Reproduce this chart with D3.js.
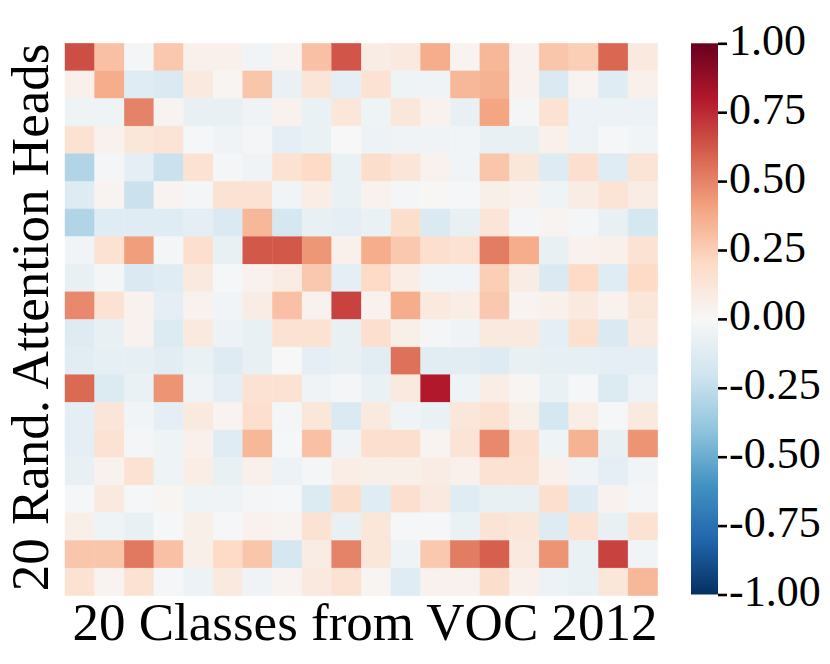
<!DOCTYPE html>
<html>
<head>
<meta charset="utf-8">
<script src="https://cdn.jsdelivr.net/npm/d3@7"></script>
<style>
  body { margin: 0; background: #fff; }
  text { font-family: "Liberation Serif", "Times New Roman", serif; fill: #000; }
</style>
</head>
<body>
<svg width="830" height="664"></svg>
<script>
const classes = ['aeroplane', 'bicycle', 'bird', 'boat', 'bottle', 'bus', 'car', 'cat', 'chair', 'cow',
  'diningtable', 'dog', 'horse', 'motorbike', 'person', 'pottedplant', 'sheep', 'sofa', 'train', 'tvmonitor'];
const heads = d3.range(1, 21).map(i => `head ${i}`);

// one row per attention head, one value per class
const corr = [
  [0.65, 0.30, -0.02, 0.27, 0.05, 0.05, -0.03, 0.03, 0.30, 0.63, 0.08, 0.10, 0.37, 0.03, 0.33, 0.04, 0.28, 0.25, 0.58, 0.10],
  [0.05, 0.37, -0.12, -0.15, 0.10, 0.02, 0.28, -0.07, 0.13, -0.10, 0.15, -0.05, -0.04, 0.33, 0.35, 0.04, -0.15, 0.03, -0.12, 0.05],
  [-0.05, -0.05, 0.50, 0.03, -0.08, -0.08, -0.04, 0.04, -0.07, 0.12, -0.05, 0.12, 0.04, -0.08, 0.40, -0.02, 0.15, -0.06, -0.06, -0.06],
  [0.15, 0.04, 0.12, 0.14, -0.01, -0.04, -0.02, -0.10, -0.07, 0.00, -0.06, -0.04, -0.04, -0.03, -0.08, -0.08, 0.05, -0.06, -0.01, -0.03],
  [-0.30, -0.02, -0.10, -0.22, 0.15, -0.02, -0.04, 0.15, 0.20, -0.07, 0.18, 0.13, 0.04, -0.03, 0.28, 0.12, -0.13, 0.17, -0.12, 0.14],
  [-0.13, 0.03, -0.22, 0.03, -0.02, 0.15, 0.15, -0.03, 0.07, -0.07, 0.04, -0.02, 0.01, -0.01, 0.06, 0.04, -0.05, 0.08, 0.14, 0.08],
  [-0.30, -0.12, -0.12, -0.12, -0.10, -0.15, 0.33, -0.18, -0.08, -0.10, -0.07, 0.18, -0.15, -0.08, 0.13, -0.02, 0.03, -0.02, -0.08, -0.18],
  [-0.03, 0.15, 0.42, -0.02, 0.17, -0.08, 0.62, 0.62, 0.44, 0.05, 0.37, 0.27, 0.17, 0.15, 0.52, 0.37, -0.08, 0.04, 0.05, 0.15],
  [-0.08, -0.02, -0.15, -0.12, 0.10, -0.01, 0.04, 0.08, 0.27, -0.10, 0.20, 0.07, -0.03, -0.03, 0.25, 0.08, -0.15, 0.20, -0.12, 0.20],
  [0.48, 0.15, 0.04, -0.10, 0.04, -0.03, 0.08, 0.30, 0.04, 0.68, 0.04, 0.37, 0.10, 0.07, 0.27, 0.03, 0.05, 0.10, 0.04, 0.12],
  [-0.13, -0.08, 0.04, -0.14, 0.10, -0.06, -0.08, 0.15, 0.15, -0.08, 0.17, 0.06, -0.02, -0.04, 0.10, 0.10, -0.10, 0.16, -0.15, 0.10],
  [-0.11, -0.09, -0.09, -0.11, -0.07, -0.13, -0.08, 0.00, -0.10, -0.08, -0.11, 0.55, -0.11, -0.11, -0.13, -0.08, -0.09, -0.09, -0.10, -0.10],
  [0.57, -0.14, -0.07, 0.45, -0.04, -0.10, 0.15, 0.15, -0.04, -0.02, -0.07, 0.10, 0.80, -0.05, 0.07, 0.02, -0.07, -0.01, -0.14, -0.06],
  [-0.10, 0.13, -0.03, -0.10, 0.10, 0.03, 0.17, -0.02, 0.12, -0.15, 0.10, -0.05, -0.07, 0.12, 0.15, 0.06, -0.18, 0.07, -0.01, 0.10],
  [-0.10, 0.15, -0.02, -0.05, 0.05, -0.12, 0.33, -0.01, 0.30, -0.04, 0.17, 0.17, 0.03, 0.14, 0.48, 0.17, -0.05, 0.35, -0.08, 0.45],
  [-0.08, 0.04, 0.15, -0.05, 0.07, -0.08, 0.05, -0.06, -0.02, 0.07, 0.06, 0.06, 0.08, 0.05, 0.15, 0.15, 0.05, -0.04, -0.10, -0.03],
  [-0.01, 0.10, -0.01, 0.02, -0.05, -0.04, -0.02, -0.01, -0.14, 0.18, -0.12, 0.17, 0.10, -0.12, -0.08, -0.08, 0.17, -0.13, 0.04, -0.02],
  [0.06, -0.05, -0.08, -0.01, 0.06, -0.01, 0.04, 0.03, 0.15, -0.08, 0.12, -0.01, -0.01, -0.07, 0.14, 0.12, -0.13, 0.15, -0.08, 0.15],
  [0.28, 0.28, 0.53, 0.30, 0.06, 0.20, 0.28, -0.18, 0.08, 0.50, 0.12, -0.05, 0.27, 0.52, 0.60, 0.10, 0.45, -0.07, 0.68, -0.03],
  [0.15, 0.03, 0.15, -0.01, -0.06, 0.10, -0.04, 0.03, 0.10, 0.15, 0.02, -0.12, 0.04, 0.04, 0.18, 0.05, -0.06, -0.07, 0.12, 0.33],
];

const cbarTicks = [-1, -0.75, -0.5, -0.25, 0, 0.25, 0.5, 0.75, 1];

// matplotlib RdBu_r anchors
const rdbuR = ['#053061', '#2166ac', '#4393c3', '#92c5de', '#d1e5f0', '#f7f7f7',
  '#fddbc7', '#f4a582', '#d6604d', '#b2182b', '#67001f'];

const svg = d3.select('svg');
const plot = { left: 65, right: 657.7, top: 43.3, bottom: 595.7 };
const cbar = { left: 691, width: 27, top: 43.3, bottom: 594.5 };

const color = d3
  .scaleLinear()
  .domain(d3.range(11).map(i => -1 + i * 0.2))
  .range(rdbuR)
  .interpolate(d3.interpolateRgb)
  .clamp(true);

const x = d3.scaleBand().domain(classes).range([plot.left, plot.right]);
const y = d3.scaleBand().domain(heads).range([plot.top, plot.bottom]);

const cells = corr.flatMap((row, i) =>
  row.map((v, j) => ({ head: heads[i], cls: classes[j], value: v })),
);

svg
  .append('g')
  .selectAll('rect')
  .data(cells)
  .join('rect')
  .attr('x', d => x(d.cls))
  .attr('y', d => y(d.head))
  .attr('width', x.bandwidth())
  .attr('height', y.bandwidth())
  .attr('fill', d => color(d.value))
  .attr('stroke', d => color(d.value))
  .attr('stroke-width', 0.4);

// colorbar
const cy = d3.scaleLinear().domain([-1, 1]).range([cbar.bottom, cbar.top]);
const defs = svg.append('defs');
const grad = defs
  .append('linearGradient')
  .attr('id', 'cbar-grad')
  .attr('x1', 0)
  .attr('y1', 1)
  .attr('x2', 0)
  .attr('y2', 0);
grad
  .selectAll('stop')
  .data(color.domain())
  .join('stop')
  .attr('offset', d => (d + 1) / 2)
  .attr('stop-color', d => color(d));

svg
  .append('rect')
  .attr('x', cbar.left)
  .attr('y', cbar.top)
  .attr('width', cbar.width)
  .attr('height', cbar.bottom - cbar.top)
  .attr('fill', 'url(#cbar-grad)');

const cAxis = svg
  .append('g')
  .attr('transform', `translate(${cbar.left + cbar.width},0)`)
  .call(
    d3
      .axisRight(cy)
      .tickValues(cbarTicks)
      .tickSize(9)
      .tickPadding(2)
      .tickFormat(d => d.toFixed(2)),
  );
cAxis.select('.domain').remove();
cAxis.selectAll('.tick line').attr('stroke', '#000').attr('stroke-width', 2.6);
cAxis
  .selectAll('.tick text')
  .attr('dy', null)
  .attr('y', 11)
  .style('font-size', '44px')
  .style('font-family', '"Liberation Serif", serif');

// axis titles
svg
  .append('text')
  .attr('x', 365)
  .attr('y', 640)
  .attr('text-anchor', 'middle')
  .style('font-size', '53px')
  .text('20 Classes from VOC 2012');

svg
  .append('text')
  .attr('transform', `translate(48,${(plot.top + plot.bottom) / 2 - 2}) rotate(-90)`)
  .attr('text-anchor', 'middle')
  .style('font-size', '53px')
  .text('20 Rand. Attention Heads');
</script>
</body>
</html>
